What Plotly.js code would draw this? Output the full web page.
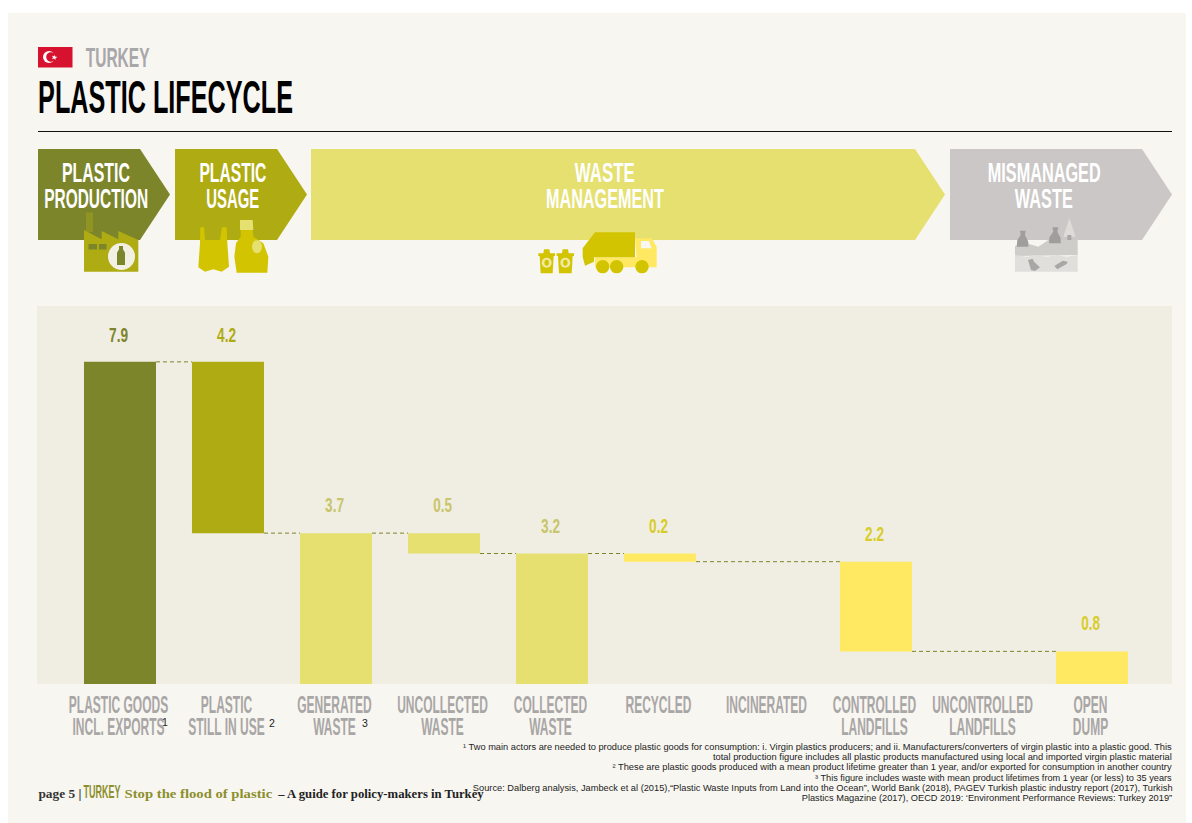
<!DOCTYPE html>
<html><head><meta charset="utf-8">
<script src="https://cdn.plot.ly/plotly-3.0.1.min.js"></script>
<style>html,body{margin:0;padding:0;background:#fff}#c{width:1192px;height:823px}</style></head>
<body><div id="c"></div>
<script>
// ---- data ----
const categories = ["PLASTIC GOODS<br>INCL. EXPORTS","PLASTIC<br>STILL IN USE","GENERATED<br>WASTE","UNCOLLECTED<br>WASTE","COLLECTED<br>WASTE","RECYCLED","INCINERATED","CONTROLLED<br>LANDFILLS","UNCONTROLLED<br>LANDFILLS","OPEN<br>DUMP"];
const values = [7.9,4.2,3.7,0.5,3.2,0.2,null,2.2,null,0.8];
const bases  = [0,3.7,0,3.2,0,3.0,null,0.8,null,0];
const barColors = ["#7D852B","#AFAB13","#E5E070","#E5E070","#E5E070","#FFE862",null,"#FFE862",null,"#FFE862"];
const labelColors = ["#7D852B","#AFAB13","#C9C56A","#C9C56A","#C9C56A","#D8CC28",null,"#D8CC28",null,"#D8CC28"];
const connFrom = [0,1,2,3,4,5,7];
const connTo   = [1,2,3,4,5,7,9];
const connLevel= [7.9,3.7,3.7,3.2,3.2,3.0,0.8];

const W=1192,H=823;
const fx=x=>x/W, fy=y=>1-y/H;
const BARW=0.667;
const CONDENSED="'Liberation Sans Narrow','Liberation Sans',sans-serif";
const SERIF="'Liberation Serif',serif";
const SANS="'Liberation Sans',sans-serif";

// ---- decoration helpers (pixel space -> paper space) ----
const shapes=[],annotations=[],targets=[];
function rect(x0,y0,x1,y1,c){shapes.push({type:'rect',xref:'paper',yref:'paper',x0:fx(x0),x1:fx(x1),y0:fy(y0),y1:fy(y1),fillcolor:c,line:{width:0},layer:'below'});}
function circ(cx,cy,rx,ry,c){shapes.push({type:'circle',xref:'paper',yref:'paper',x0:fx(cx-rx),x1:fx(cx+rx),y0:fy(cy-ry),y1:fy(cy+ry),fillcolor:c,line:{width:0},layer:'below'});}
function poly(pts,c){shapes.push({type:'path',xref:'paper',yref:'paper',path:'M'+pts.map(p=>fx(p[0])+','+fy(p[1])).join('L')+'Z',fillcolor:c,line:{width:0},layer:'below'});}
function zr(o,p){return p.map(q=>[o[0]+q[0]/3,o[1]+q[1]/3]);}
function lab(t,x0,x1,y,size,color,font,weight){
  annotations.push({text:t,xref:'paper',yref:'paper',x:fx((x0+x1)/2),y:fy(y),xanchor:'center',yanchor:'middle',showarrow:false,
    font:{size:size,color:color,family:font||CONDENSED,weight:weight||700},captureevents:false});
  targets.push(x1-x0);
}

// page + plot panel
rect(8,13,1186,823,'#F8F6F1');
rect(37,306,1172,684,'#F0EEE3');
// flag
rect(38,47,72.5,67.5,'#D7122F');
circ(49,57,6,6,'#FFFFFF'); circ(51,57,4.8,4.8,'#D7122F');
poly([[54,54.5],[55,56.5],[57.5,57],[55.5,58],[55.5,60],[54,58.5],[52,59.3],[53,57.5],[52,55.8],[54,56.2]],'#FFFFFF');
// header
shapes.push({type:'line',xref:'paper',yref:'paper',x0:fx(38),x1:fx(1172),y0:fy(131.5),y1:fy(131.5),line:{color:'#111',width:1},layer:'below'});
lab('TURKEY',85,149,57.5,28,'#A8A7AA');
lab('PLASTIC LIFECYCLE',38,293,96.5,46,'#000000');
// chevrons
const chev=(x0,x1,x2,c)=>poly([[x0,149],[x1,149],[x2,194.5],[x1,240],[x0,240]],c);
chev(38,140,170,'#7D852B'); chev(175,277,307,'#AFAB13'); chev(311,915,945,'#E5E070'); chev(950,1142,1172,'#CBC7C6');
lab('PLASTIC',62,130,172,28,'#FFFFFF'); lab('PRODUCTION',44,148,198.5,28,'#FFFFFF');
lab('PLASTIC',200,267,172,28,'#FFFFFF'); lab('USAGE',207,260,198.5,28,'#FFFFFF');
lab('WASTE',575,635,172,28,'#FFFFFF'); lab('MANAGEMENT',546,664,198.5,28,'#FFFFFF');
lab('MISMANAGED',987,1100,172,28,'#FFFFFF'); lab('WASTE',1015,1073,198.5,28,'#FFFFFF');

// factory icon
const o1=[20,30];
rect(86,212.5,93,232,'#8F9422');
poly(zr(o1,[[192,600],[245,628],[245,603],[295,628],[295,603],[355,630],[355,725],[192,725]]),'#AFAB13');
rect(88.5,244,97,249.5,'#7D852B'); rect(99,244,106.5,249.5,'#7D852B');
circ(121.5,256.5,13.5,13.5,'#F2EFE3');
poly(zr(o1,[[297,648],[309,648],[309,658],[315,668],[315,705],[291,705],[291,668],[297,658]]),'#7D852B');
// bag icon
poly(zr(o1,[[541,592],[552,592],[555,630],[600,630],[606,592],[620,592],[622,640],[627,710],[605,725],[580,718],[555,725],[535,712],[540,640]]),'#D2C400');
// bottle icon
poly(zr(o1,[[660,570],[698,570],[700,600],[660,600]]),'#E5E070');
poly(zr(o1,[[662,600],[698,600],[700,620],[730,640],[745,680],[742,728],[650,728],[643,680],[648,640],[662,620]]),'#D2C400');
circ(20+711/3,30+650/3,5,6.5,'#E5E070');
// truck + bins icon
const o2=[500,140];
poly(zr(o2,[[405,295],[455,295],[470,320],[470,382],[285,382],[285,352],[410,352]]),'#FFE862');
poly(zr(o2,[[248,325],[285,277],[405,277],[405,352],[282,352],[282,365],[255,377],[248,350]]),'#D2C400');
poly(zr(o2,[[423,303],[447,303],[455,325],[423,325]]),'#F8F6F1');
circ(500+308/3,140+380/3,6.7,6.7,'#D2C400'); circ(500+350/3,140+380/3,6.7,6.7,'#D2C400'); circ(500+426/3,140+380/3,6.7,6.7,'#D2C400');
[[115,165],[170,222]].forEach(b=>{
  const m=(b[0]+b[1])/2;
  poly(zr(o2,[[b[0],340],[m-10,340],[m-8,328],[m+8,328],[m+10,340],[b[1],340],[b[1],348],[b[1]-4,348],[b[1]-7,400],[b[0]+7,400],[b[0]+4,348],[b[0],348]]),'#D2C400');
  circ(500+m/3,140+368/3,5,5,'#F0E9A0');
  circ(500+m/3,140+368/3,2.2,3,'#D2C400');
});
// dump icon
const o3=[930,140];
poly(zr(o3,[[418,235],[437,290],[400,290]]),'#DEDCD8');
rect(930+412/3,140+285/3,930+424/3,140+300/3,'#A9A7A5');
poly(zr(o3,[[255,348],[255,318],[290,310],[325,320],[355,300],[443,300],[443,345]]),'#CFCDCA');
poly(zr(o3,[[255,345],[290,350],[320,345],[350,350],[380,345],[410,350],[443,345],[443,395],[255,395]]),'#E1DFDC');
poly(zr(o3,[[270,272],[287,272],[285,285],[295,305],[295,320],[260,320],[262,300],[272,285]]),'#A09E9D');
poly(zr(o3,[[367,262],[385,262],[382,275],[392,295],[392,310],[357,310],[358,292],[370,275]]),'#A09E9D');
poly(zr(o3,[[294,360],[308,356],[312,365],[330,382],[315,393],[303,390]]),'#A9A7A5');
poly(zr(o3,[[373,378],[398,362],[413,365],[410,372],[382,388]]),'#A9A7A5');

// data labels: top of every bar + fixed offset
values.forEach((v,i)=>{ if(v===null) return;
  annotations.push({text:v.toFixed(1),xref:'x',yref:'y',x:i-0.01,y:bases[i]+v,yshift:i<2?27:28.5,xanchor:'center',yanchor:'middle',showarrow:false,
    font:{size:21,color:labelColors[i],family:CONDENSED,weight:700},captureevents:false});
  targets.push(19);
});
// footnote marks on axis labels
[['1',165,722],['2',272,723],['3',364.5,723]].forEach(s=>lab(s[0],s[1]-3,s[1]+3,s[2],10.5,'#222',SANS,400));
// footnotes
const fnc='#222222';
lab('¹ Two main actors are needed to produce plastic goods for consumption: i. Virgin plastics producers; and ii. Manufacturers/converters of virgin plastic into a plastic good. This',463,1172,747,8.6,fnc,SANS,400);
lab('total production figure includes all plastic products manufactured using local and imported virgin plastic material',713,1172,757,8.6,fnc,SANS,400);
lab('² These are plastic goods produced with a mean product lifetime greater than 1 year, and/or exported for consumption in another country',612,1172,767,8.6,fnc,SANS,400);
lab('³ This figure includes waste with mean product lifetimes from 1 year (or less) to 35 years',815,1172,777.5,8.6,fnc,SANS,400);
lab('Source: Dalberg analysis, Jambeck et al (2015),“Plastic Waste Inputs from Land into the Ocean”, World Bank (2018), PAGEV Turkish plastic industry report (2017), Turkish',473,1172,788,8.6,fnc,SANS,400);
lab('Plastics Magazine (2017), OECD 2019: ‘Environment Performance Reviews: Turkey 2019”',802,1172,798,8.6,fnc,SANS,400);
// page footer
lab('page 5 |',38,81,793,13,'#333',SERIF,700);
lab('TURKEY',84,121,792,18,'#8C8F2C');
lab('Stop the flood of plastic',124,272,793,13,'#8C8F2C',SERIF,700);
lab('– A guide for policy-makers in Turkey',277,484,793,13,'#222',SERIF,700);

// ---- traces ----
const xs=categories.map((_,i)=>i);
const connX=[],connY=[];
connFrom.forEach((f,k)=>{connX.push(f+BARW/2,connTo[k]-BARW/2,null);connY.push(connLevel[k],connLevel[k],null);});
const traces=[
 {type:'bar',x:xs,y:values,base:bases,width:BARW,marker:{color:barColors,line:{width:0}},hoverinfo:'skip',showlegend:false},
 {type:'scatter',mode:'lines',x:connX,y:connY,line:{color:'#7D852B',width:1,dash:'4px 3px'},connectgaps:false,hoverinfo:'skip',showlegend:false}
];
const layout={
 width:W,height:H,margin:{l:0,r:0,t:0,b:0},paper_bgcolor:'#FFFFFF',plot_bgcolor:'rgba(0,0,0,0)',showlegend:false,
 font:{family:CONDENSED},
 xaxis:{domain:[37/W,1172/W],range:[-0.7685,9.741],tickmode:'array',tickvals:xs,ticktext:categories,tickangle:0,showgrid:false,zeroline:false,showline:false,ticks:'',
   tickfont:{family:CONDENSED,size:24,color:'#A9A6A6',weight:700},automargin:false,fixedrange:true},
 yaxis:{domain:[1-684/H,1-306/H],range:[0,9.27],showgrid:false,zeroline:false,showline:false,showticklabels:false,ticks:'',automargin:false,fixedrange:true},
 shapes:shapes,annotations:annotations
};
Plotly.newPlot('c',traces,layout,{staticPlot:true,displayModeBar:false}).then(gd=>{
  // The reference lettering is far narrower than any installed face: squeeze horizontally.
  const squeeze=(el,k,dx)=>{const b=el.getBBox();const c=b.x+b.width/2;const old=el.getAttribute('transform')||'';
    el.setAttribute('transform',old+' translate('+(c+(dx||0))+',0) scale('+k+',1) translate('+(-c)+',0)');};
  gd.querySelectorAll('g.annotation').forEach(g=>{
    const i=+g.getAttribute('data-index');const t=g.querySelector('text');if(!t)return;
    const w=t.getBBox().width; squeeze(t,targets[i]/w);
  });
  gd.querySelectorAll('.xtick text').forEach(t=>{
    const ls=t.querySelectorAll('tspan.line');
    if(ls.length) ls.forEach((s,n)=>{ s.setAttribute('dy',(n*22+4)+'px'); });
    else t.setAttribute('dy','4px');
    squeeze(t,0.5,-1.5);
  });
});
</script></body></html>
